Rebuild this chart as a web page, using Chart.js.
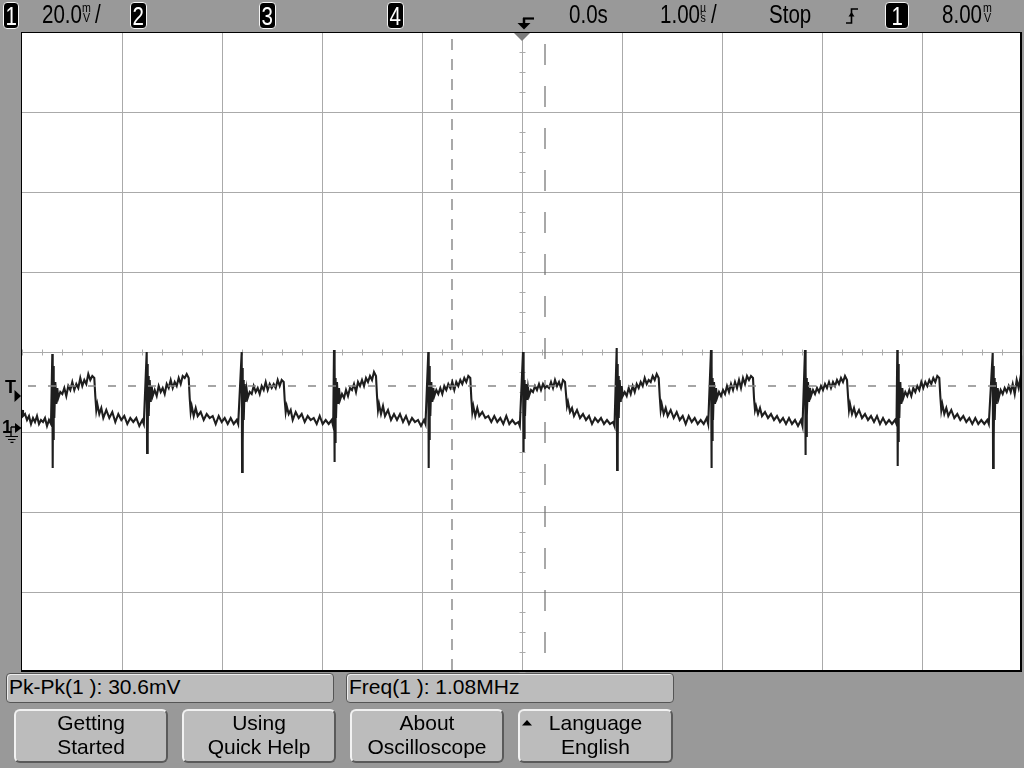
<!DOCTYPE html>
<html><head><meta charset="utf-8">
<script src="https://cdn.jsdelivr.net/npm/chart.js@4.4.1/dist/chart.umd.min.js"></script>
<style>
html,body{margin:0;padding:0;}
body{width:1024px;height:768px;background:#999;position:relative;overflow:hidden;font-family:"Liberation Sans",Arial,sans-serif;color:#000;}
#c{position:absolute;left:0;top:0;z-index:1;}
.ov{z-index:2;}
.t{position:absolute;white-space:nowrap;z-index:2;}
.top{font-size:26px;line-height:26px;top:1px;transform:scaleX(0.79);transform-origin:0 0;}
.badge{position:absolute;top:2px;height:25px;background:#000;border:1px solid #f4f4f4;border-radius:4px;color:#fff;font-size:26px;line-height:26px;text-align:center;overflow:hidden;z-index:2;}
.badge span{display:inline-block;transform:scaleX(0.79);}
.unit{position:absolute;font-size:12.5px;line-height:10px;text-align:center;top:3px;transform:scaleX(0.85);transform-origin:0 0;z-index:2;}
.meas{position:absolute;top:673px;height:30px;box-sizing:border-box;background:#bcbcbc;border:1px solid #555;border-radius:4px;font-size:21px;line-height:21px;padding:2px 0 0 2px;box-shadow:inset 1px 1px 0 #eee;z-index:2;white-space:nowrap;}
.btn{position:absolute;top:709px;height:54px;box-sizing:border-box;background:#bcbcbc;border:2px solid;border-color:#f2f2f2 #5a5a5a #5a5a5a #f2f2f2;border-radius:6px;font-size:21px;line-height:23.5px;text-align:center;z-index:2;}
.mk{position:absolute;font-size:18px;line-height:18px;font-weight:bold;z-index:2;}
</style></head>
<body>
<canvas id="c" width="1024" height="768"></canvas>

<!-- top status bar -->
<div class="badge" style="left:3px;width:14px;"><span>1</span></div>
<div class="t top" style="left:42px;">20.0</div>
<div class="unit" style="left:82px;">m<br>V</div>
<div class="t top" style="left:95px;">/</div>
<div class="badge" style="left:130px;width:15px;"><span>2</span></div>
<div class="badge" style="left:259px;width:15px;"><span>3</span></div>
<div class="badge" style="left:387px;width:15px;"><span>4</span></div>
<div class="t top" style="left:569px;">0.0s</div>
<div class="t top" style="left:660px;">1.00</div>
<div class="unit" style="left:700px;">µ<br>s</div>
<div class="t top" style="left:711px;">/</div>
<div class="t top" style="left:769px;">Stop</div>
<div class="badge" style="left:885px;width:22px;"><span>1</span></div>
<div class="t top" style="left:942px;">8.00</div>
<div class="unit" style="left:983px;">m<br>V</div>

<svg class="ov" width="1024" height="768" style="position:absolute;left:0;top:0;pointer-events:none;">
  <path d="M523 18.5 H534" stroke="#000" stroke-width="2.2" fill="none"/>
  <path d="M524 18 V24" stroke="#000" stroke-width="2.5" fill="none"/>
  <polygon points="517.5,23 530.5,23 524,29.5" fill="#000"/>
  <path d="M846 23 H851.5 V9 H858" stroke="#000" stroke-width="1.6" fill="none"/>
  <polygon points="848.5,16.5 854.5,16.5 851.5,12" fill="#000"/>
  <polygon points="14.5,390 14.5,402 21,396" fill="#000"/>
  <polygon points="15,423 15,433 21.5,428" fill="#000"/>
  <path d="M11 427 H15 M11 427 V436" stroke="#000" stroke-width="1.3" fill="none"/>
  <path d="M5.5 436.5 H18 M8 439.5 H15.5 M10.5 442.3 H13.5" stroke="#000" stroke-width="1.2" fill="none"/>
</svg>
<div class="mk" style="left:5px;top:377.5px;">T</div>
<div class="mk" style="left:2px;top:417.5px;">1</div>

<!-- bottom panel -->
<div class="meas" style="left:6px;width:328px;">Pk-Pk(1 ): 30.6mV</div>
<div class="meas" style="left:346px;width:328px;">Freq(1 ): 1.08MHz</div>
<div class="btn" style="left:14px;width:154px;">Getting<br>Started</div>
<div class="btn" style="left:182px;width:154px;">Using<br>Quick Help</div>
<div class="btn" style="left:350px;width:154px;">About<br>Oscilloscope</div>
<div class="btn" style="left:518px;width:155px;">Language<br>English</div>
<svg class="ov" width="12" height="8" style="position:absolute;left:521px;top:719px;">
  <polygon points="1,6.5 11,6.5 6,1" fill="#000"/>
</svg>

<script>
// ---- scope settings / axes (time in µs, volts in mV relative to channel-1 ground) ----
const timeTicks = [-5,-4,-3,-2,-1,0,1,2,3,4,5];
const voltTicks = [-61,-41,-21,-1,19,39,59,79,99];
const centerTime = 0;
const centerLevel = 19;
const minorTime = 0.2;
const minorVolt = 5;
const triggerTime = 0;
const triggerLevel = 10.5;
const cursorA = -0.70;
const cursorB = 0.23;

// ---- channel 1 waveform ----
const leadTimes = [-5,-4.99,-4.97,-4.95,-4.93,-4.91,-4.89,-4.87,-4.85,-4.83,-4.81,-4.79,-4.77,-4.75,-4.73,-4.71];
const leadVolts = [4.5,3,3.5,2,3,1,2.5,1.5,3,1,2,1.5,2.5,0.5,2,1];
const edgeTimes = [-4.697,-3.753,-2.803,-1.88,-0.937,0.01,0.947,1.89,2.83,3.753,4.707];
const offsets = [0,0.004,0.008,0.012,0.016,0.02,0.03,0.04,0.05,0.06,
  0.08,0.10,0.12,0.14,0.16,0.18,0.20,0.22,0.24,0.26,0.28,0.30,0.32,0.34,0.36,0.38,0.40,0.42,
  0.43,0.44,0.45,0.47,0.49,0.51,
  0.54,0.57,0.60,0.63,0.66,0.69,0.72,0.75,0.78,0.81,0.84,0.87,0.90,0.915];
const cycle1 = [18.5,-10,15.5,-3,12.5,2.5,11.5,6,10,7.5, 9,8.5,10,8,10.5,9.5,11.5,9.5,11,10,12.5,10.5,12,11,13.5,12,13,12.5, 8,4.5,6,3.5,5,2.5, 4.5,2.5,4,1.5,3.5,2,3,1,2.5,1.5,2.5,0.5,2,1];
const cycle2 = [19,-6.25,16,-2,13,3,12,6.5,10.5,8, 9.5,8,10.5,9,10,8.5,11,10,12,10,11.5,10.5,12.5,11,13,12.5,13.5,12.5, 7.5,4,5.5,3,5,3, 4,2,3.5,2.5,3,1,3,1.5,2.5,1,2.5,1,2,1];
const cycle3 = [19,-11,15,-4,12,2,11,6.5,9.5,7.5, 9,8.5,10.5,9,10,8.5,10.5,9.5,11.5,9.5,11,10,11,10,12,10.5,12,11.5, 7,4,5.5,3.5,4.5,2, 4,2.5,3.5,1.5,3,2,2.5,1,3,1,2,1,2,0.5];
const cycle4 = [19.5,-8.5,16,-3.5,12.5,2.5,11.5,6,10,7, 8.5,7.5,9.5,8,10,9.5,11,9,11.5,10.5,12,10.5,12.5,11.5,13,12,14,13, 8,4.5,6,3.5,5.5,3, 4.5,2,3.5,2,3.5,1.5,3,1,2.5,1.5,2,0.5,2,1];
const cycle5 = [19,-10,15.5,-3,12.5,3,11.5,6.5,10,8, 9.5,8.5,10,8.5,10.5,9.5,11,10,11.5,9.5,11.5,10.5,12,11,12.5,11.5,13,12.5, 7.5,4,5.5,3,5,3, 4,2.5,3,1.5,3,1.5,2.5,1,3,1,2,1,1.5,0.5];
const cycle6 = [19,-6,15,-2.5,12,3,11,7,10,8, 9.5,9,10.5,9.5,11,9.5,11,10,10.5,10,11.5,10,12,10.5,11.5,10,12,11.5, 8.5,5.5,6.5,4,5,3, 4.5,2.5,3.5,2,3,1,2.5,1.5,2.5,1,2,1,1.5,0.5];
const cycle7 = [20,-10.5,16,-4,13,2.5,12,6.5,10.5,8, 9,8,10,8.5,10.5,9,11,10,11.5,10.5,12.5,11,12,11.5,13,12,13.5,12.5, 8,4.5,6,3.5,5,3, 4.5,2.5,4,2,3,1,3,1.5,2.5,1,2,1,2.5,1];
const cycle8 = [19.5,-10,15.5,-3,12.5,2,11.5,6,10,7.5, 9,8,9.5,8.5,10.5,9,11,9.5,11.5,10,12,10,12.5,11,13,12,13,12.5, 7.5,4.5,5.5,3.5,5,3, 4,2.5,3.5,2,3,1.5,2.5,1,2.5,1,2,0.5,2,0.5];
const cycle9 = [19.5,-6.75,15,-2,12.5,3,11.5,6.5,10,8, 9.5,8.5,10,9,10.5,9.5,11,10,11.5,10,11.5,10.5,12,11,12.5,11.5,13,12, 8,4.5,6,3.5,5,3, 4.5,2.5,3.5,2,3,1.5,3,1,2.5,1,2,1,2,1];
const cycle10 = [19.5,-9.5,16,-3.5,12.5,2.5,11.5,6,10,7.5, 9,8,9.5,8,10,9,10.5,9.5,11.5,10,11.5,10.5,12,11,12.5,11.5,13,12.5, 8,4.5,6,3.5,5,3, 4.5,2.5,3.5,2,3,1.5,2.5,1,2.5,1,2,1,2,1];
const cycle11 = [18.75,-10,15.5,-3.5,12.5,2,11.5,6,10,7.5, 9.5,8.5,10,9,10.5,9,11,8.5,12,10,13,9,12.5,11,13.5,12,13,12.5, 8,4.5,6,3.5,5,3, 4.5,2.5,3.5,2,3,1.5,2.5,1,2.5,1,2,1,2,1];

const cycles = [cycle1,cycle2,cycle3,cycle4,cycle5,cycle6,cycle7,cycle8,cycle9,cycle10,cycle11];
const trace = leadTimes.map((t,i)=>({x:t,y:leadVolts[i]}));
edgeTimes.forEach((e,k)=>{ offsets.forEach((o,i)=>{ trace.push({x:e+o, y:cycles[k][i]}); }); });

const xMin = timeTicks[0], xMax = timeTicks[timeTicks.length-1];
const yMin = voltTicks[0], yMax = voltTicks[voltTicks.length-1];

const gridColor = (c) => (c.index===0 || c.index===c.scale.ticks.length-1) ? 'rgba(0,0,0,0)' : '#aaaaaa';

const scopePlugin = {
  id:'scope',
  beforeDraw(chart){
    const {ctx, chartArea:a} = chart;
    ctx.save(); ctx.fillStyle='#ffffff';
    ctx.fillRect(a.left-1,a.top,a.right-a.left+1,a.bottom-a.top);
    ctx.restore();
  },
  beforeDatasetsDraw(chart){
    const {ctx, scales:{x,y}} = chart;
    const cx = Math.round(x.getPixelForValue(centerTime))+0.5;
    const cy = Math.round(y.getPixelForValue(centerLevel))+0.5;
    ctx.save(); ctx.strokeStyle='#aaaaaa'; ctx.lineWidth=1; ctx.beginPath();
    for(let v=xMin; v<=xMax+1e-9; v+=minorTime){ const px=Math.round(x.getPixelForValue(v))+0.5; ctx.moveTo(px,cy-3); ctx.lineTo(px,cy+3); }
    for(let v=yMax; v>=yMin-1e-9; v-=minorVolt){ const py=Math.round(y.getPixelForValue(v))+0.5; ctx.moveTo(cx-3,py); ctx.lineTo(cx+3,py); }
    ctx.stroke(); ctx.restore();
  },
  afterDatasetsDraw(chart){
    const {ctx, chartArea:a, scales:{x}} = chart;
    ctx.save();
    ctx.fillStyle='#000';
    ctx.fillRect(a.left-1, a.top, a.right-a.left+1, 1);
    ctx.fillRect(a.left-1, a.top, 1, a.bottom-a.top);
    ctx.fillRect(a.right-2, a.top, 2, a.bottom-a.top);
    ctx.fillRect(a.left-1, a.bottom-2, a.right-a.left+1, 2);
    const tx = x.getPixelForValue(triggerTime);
    ctx.fillStyle='#7a7a7a';
    ctx.beginPath(); ctx.moveTo(tx-8,a.top+1); ctx.lineTo(tx+8,a.top+1); ctx.lineTo(tx,a.top+9); ctx.closePath(); ctx.fill();
    ctx.restore();
  }
};

new Chart(document.getElementById('c'), {
  type:'line',
  data:{ datasets:[
    { data:[{x:xMin,y:triggerLevel},{x:xMax,y:triggerLevel}], borderColor:'#888888', borderWidth:1.3, borderDash:[8,12], borderDashOffset:14, pointRadius:0 },
    { data:trace, borderColor:'#1e1e1e', borderWidth:2.1, pointRadius:0, tension:0 },
    { data:[{x:cursorA,y:yMax},{x:cursorA,y:yMin}], borderColor:'#707070', borderWidth:1.2, borderDash:[11,9], borderDashOffset:13, pointRadius:0 },
    { data:[{x:cursorB,y:yMax},{x:cursorB,y:yMin}], borderColor:'#707070', borderWidth:1.2, borderDash:[21,21], borderDashOffset:30, pointRadius:0 }
  ]},
  options:{
    responsive:false, animation:false, devicePixelRatio:1, events:[],
    layout:{ padding:{ left:22, top:32, right:2, bottom:96 } },
    plugins:{ legend:{display:false}, tooltip:{enabled:false} },
    scales:{
      x:{ type:'linear', min:xMin, max:xMax,
          afterBuildTicks:(s)=>{ s.ticks = timeTicks.map(v=>({value:v})); },
          ticks:{display:false}, border:{display:false},
          grid:{ color:gridColor, lineWidth:1, drawTicks:false } },
      y:{ type:'linear', min:yMin, max:yMax,
          afterBuildTicks:(s)=>{ s.ticks = voltTicks.map(v=>({value:v})); },
          ticks:{display:false}, border:{display:false},
          grid:{ color:gridColor, lineWidth:1, drawTicks:false } }
    }
  },
  plugins:[scopePlugin]
});
</script>
</body></html>
